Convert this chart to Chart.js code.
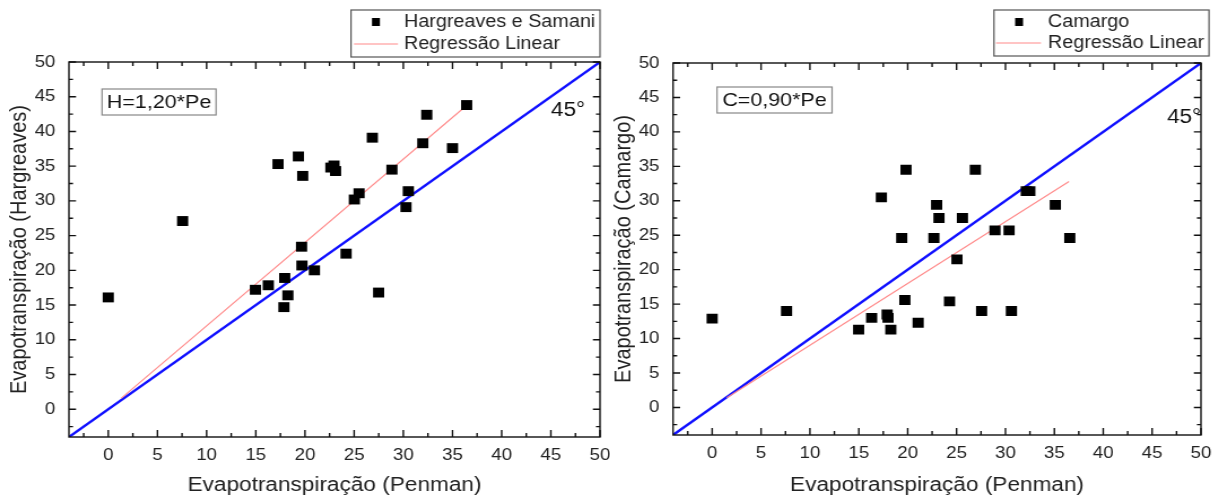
<!DOCTYPE html>
<html lang="pt">
<head>
    <meta charset="UTF-8">
    <title>Evapotranspiração - Hargreaves e Camargo x Penman</title>
    <script src="https://cdn.jsdelivr.net/npm/chart.js@4.4.0/dist/chart.umd.min.js"></script>
    <style>
        body { margin: 0; background: #fff; font-family: 'Liberation Sans', Arial, sans-serif; }
        #wrap { position: relative; width: 1225px; height: 497px; overflow: hidden; }
        /* the original figure is a little stretched sideways, so each chart is drawn narrower and widened */
        .box { position: absolute; top: 0; height: 497px; transform: scaleX(1.13); transform-origin: 0 0; }
    </style>
</head>
<body>
<div id="wrap">
    <div class="box" style="left:0;width:540px"><canvas id="chartH"></canvas></div>
    <div class="box" style="left:610px;width:544px"><canvas id="chartC"></canvas></div>
</div>
<script>
// Penman x Hargreaves e Samani
const penmanH = [0, 7.56, 14.96, 16.27, 17.26, 17.86, 17.94, 18.26, 19.33, 19.65, 19.77, 19.69, 20.96, 22.63,
                 22.95, 23.11, 24.18, 25.02, 25.5, 26.85, 27.49, 28.84, 30.27, 30.51, 31.98, 32.38, 35.0, 36.44];
const hargreaves = [16.1, 27.1, 17.2, 17.85, 35.3, 14.7, 18.9, 16.4, 36.4, 23.4, 33.6, 20.7, 20.0, 34.8,
                    35.1, 34.3, 22.4, 30.2, 31.1, 39.1, 16.8, 34.5, 29.1, 31.4, 38.3, 42.4, 37.6, 43.8];
// Penman x Camargo
const penmanC = [0, 7.61, 14.98, 16.31, 17.31, 17.9, 17.99, 18.27, 19.39, 19.83, 19.71, 21.07, 22.68, 22.96,
                 23.2, 24.28, 25.04, 25.6, 26.92, 27.56, 28.93, 30.37, 30.61, 32.13, 32.49, 35.1, 36.58];
const camargo = [12.9, 14.0, 11.3, 13.0, 30.5, 13.5, 13.0, 11.3, 24.6, 34.5, 15.6, 12.3, 24.6, 29.4,
                 27.5, 15.4, 21.5, 27.5, 34.5, 14.0, 25.7, 25.7, 14.0, 31.4, 31.4, 29.4, 24.6];

// regression lines (end points) and the 45 degree line
const regHx = [1.3, 36.4];
const regHy = [1.56, 43.7];
const regCx = [1.5, 36.5];
const regCy = [1.4, 32.8];
const diagX = [-4, 50];
const diagY = [-4, 50];

const axisTicks = [0, 5, 10, 15, 20, 25, 30, 35, 40, 45, 50];
const minorTicks = [-2.5, 2.5, 7.5, 12.5, 17.5, 22.5, 27.5, 32.5, 37.5, 42.5, 47.5];
const axisMin = -4, axisMax = 50;

const FONT = "'Liberation Sans', Arial, sans-serif";
const INK = '#222';

function pts(xs, ys) {
    return xs.map((x, i) => ({ x: x, y: ys[i] }));
}

// frame, inward ticks, legend box, equation box and 45° label
const extrasPlugin = {
    id: 'extras',
    afterDraw(chart, args, opts) {
        const ctx = chart.ctx;
        const a = chart.chartArea;
        const xs = chart.scales.x, ys = chart.scales.y;
        ctx.save();
        ctx.strokeStyle = '#111';
        ctx.lineWidth = 1.4;
        ctx.strokeRect(a.left, a.top, a.right - a.left, a.bottom - a.top);

        ctx.beginPath();
        const mark = (v, len) => {
            const px = xs.getPixelForValue(v);
            const py = ys.getPixelForValue(v);
            ctx.moveTo(px, a.bottom); ctx.lineTo(px, a.bottom - len);
            ctx.moveTo(px, a.top); ctx.lineTo(px, a.top + len);
            ctx.moveTo(a.left, py); ctx.lineTo(a.left + len * 0.9, py);
            ctx.moveTo(a.right, py); ctx.lineTo(a.right - len * 0.9, py);
        };
        axisTicks.forEach(v => mark(v, 7));
        minorTicks.forEach(v => mark(v, 4));
        ctx.stroke();

        // legend
        const L = opts.legend;
        ctx.fillStyle = '#fff';
        ctx.fillRect(L.x, L.y, L.w, L.h);
        ctx.strokeStyle = '#555';
        ctx.lineWidth = 1.2;
        ctx.strokeRect(L.x, L.y, L.w, L.h);
        const ds0 = chart.data.datasets[0], ds1 = chart.data.datasets[1];
        ctx.fillStyle = ds0.backgroundColor;
        ctx.fillRect(L.markX - 3.5, L.row1 - 4, 7, 8);
        ctx.strokeStyle = ds1.borderColor;
        ctx.lineWidth = 1.2;
        ctx.beginPath();
        ctx.moveTo(L.lineX0, L.row2); ctx.lineTo(L.lineX1, L.row2);
        ctx.stroke();
        ctx.fillStyle = INK;
        ctx.font = '17.5px ' + FONT;
        ctx.textBaseline = 'middle';
        ctx.textAlign = 'left';
        ctx.fillText(ds0.label, L.textX, L.row1);
        ctx.fillText(ds1.label, L.textX, L.row2);

        // equation box
        const E = opts.equation;
        ctx.strokeStyle = '#888';
        ctx.lineWidth = 1.2;
        ctx.strokeRect(E.x, E.y, E.w, E.h);
        ctx.font = '19px ' + FONT;
        ctx.textAlign = 'center';
        ctx.fillStyle = '#111';
        ctx.fillText(E.text, E.x + E.w / 2, E.y + E.h / 2 + 1);

        // 45 degree label
        ctx.font = '20px ' + FONT;
        ctx.fillText('45°', opts.angle.x, opts.angle.y);
        ctx.restore();
    }
};

function makeChart(id, cfg) {
    const tickFont = { family: FONT, size: 16.5 };
    const titleFont = { family: FONT, size: 20 };
    return new Chart(document.getElementById(id), {
        type: 'scatter',
        data: {
            datasets: [
                {
                    label: cfg.name,
                    data: pts(cfg.xs, cfg.ys),
                    backgroundColor: '#000',
                    borderColor: '#000',
                    pointStyle: 'rect',
                    pointRadius: 7,
                    pointHoverRadius: 7,
                    borderWidth: 0
                },
                {
                    label: 'Regressão Linear',
                    data: pts(cfg.regX, cfg.regY),
                    showLine: true,
                    borderColor: '#ff8a8a',
                    borderWidth: 1.1,
                    pointRadius: 0
                },
                {
                    label: '45°',
                    data: pts(diagX, diagY),
                    showLine: true,
                    borderColor: '#1010ff',
                    borderWidth: 2.4,
                    pointRadius: 0
                }
            ]
        },
        options: {
            responsive: true,
            maintainAspectRatio: false,
            animation: false,
            layout: { padding: cfg.padding },
            scales: {
                x: {
                    type: 'linear',
                    min: axisMin,
                    max: axisMax,
                    afterBuildTicks: s => { s.ticks = axisTicks.map(v => ({ value: v })); },
                    afterFit: s => { s.height = cfg.xHeight; s.paddingLeft = 0; s.paddingRight = 0; },
                    grid: { display: false, drawTicks: false },
                    border: { display: false },
                    ticks: { color: INK, font: tickFont, padding: 9, maxRotation: 0 },
                    title: { display: true, text: 'Evapotranspiração (Penman)', color: INK, font: titleFont, padding: 0 }
                },
                y: {
                    type: 'linear',
                    min: axisMin,
                    max: axisMax,
                    afterBuildTicks: s => { s.ticks = axisTicks.map(v => ({ value: v })); },
                    afterFit: s => { s.width = cfg.yWidth; s.paddingTop = 0; s.paddingBottom = 0; },
                    grid: { display: false, drawTicks: false },
                    border: { display: false },
                    ticks: { color: INK, font: tickFont, padding: 12 },
                    title: { display: true, text: cfg.yTitle, color: INK, font: titleFont, padding: { top: cfg.yTitlePad, bottom: 0 } }
                }
            },
            plugins: {
                legend: { display: false },
                tooltip: { enabled: false },
                extras: cfg.extras
            }
        },
        plugins: [extrasPlugin]
    });
}

makeChart('chartH', {
    name: 'Hargreaves e Samani',
    xs: penmanH, ys: hargreaves,
    regX: regHx, regY: regHy,
    yTitle: 'Evapotranspiração (Hargreaves)',
    padding: { top: 62, right: 9, left: 0, bottom: 0 },
    xHeight: 60, yWidth: 61, yTitlePad: 5,
    extras: {
        legend: { x: 310.6, y: 10, w: 220.4, h: 47, markX: 332.7, lineX0: 313.3, lineX1: 352.2, textX: 357.5, row1: 22, row2: 44 },
        equation: { x: 90.3, y: 89, w: 100.9, h: 26, text: 'H=1,20*Pe' },
        angle: { x: 502.7, y: 110 }
    }
});

makeChart('chartC', {
    name: 'Camargo',
    xs: penmanC, ys: camargo,
    regX: regCx, regY: regCy,
    yTitle: 'Evapotranspiração (Camargo)',
    padding: { top: 63, right: 21, left: 0, bottom: 0 },
    xHeight: 62, yWidth: 55.8, yTitlePad: 0,
    extras: {
        legend: { x: 339.8, y: 10, w: 190.3, h: 46, markX: 362, lineX0: 341.6, lineX1: 381.4, textX: 387.6, row1: 22, row2: 43 },
        equation: { x: 94.7, y: 87, w: 101.8, h: 26, text: 'C=0,90*Pe' },
        angle: { x: 508, y: 117 }
    }
});
</script>
</body>
</html>
